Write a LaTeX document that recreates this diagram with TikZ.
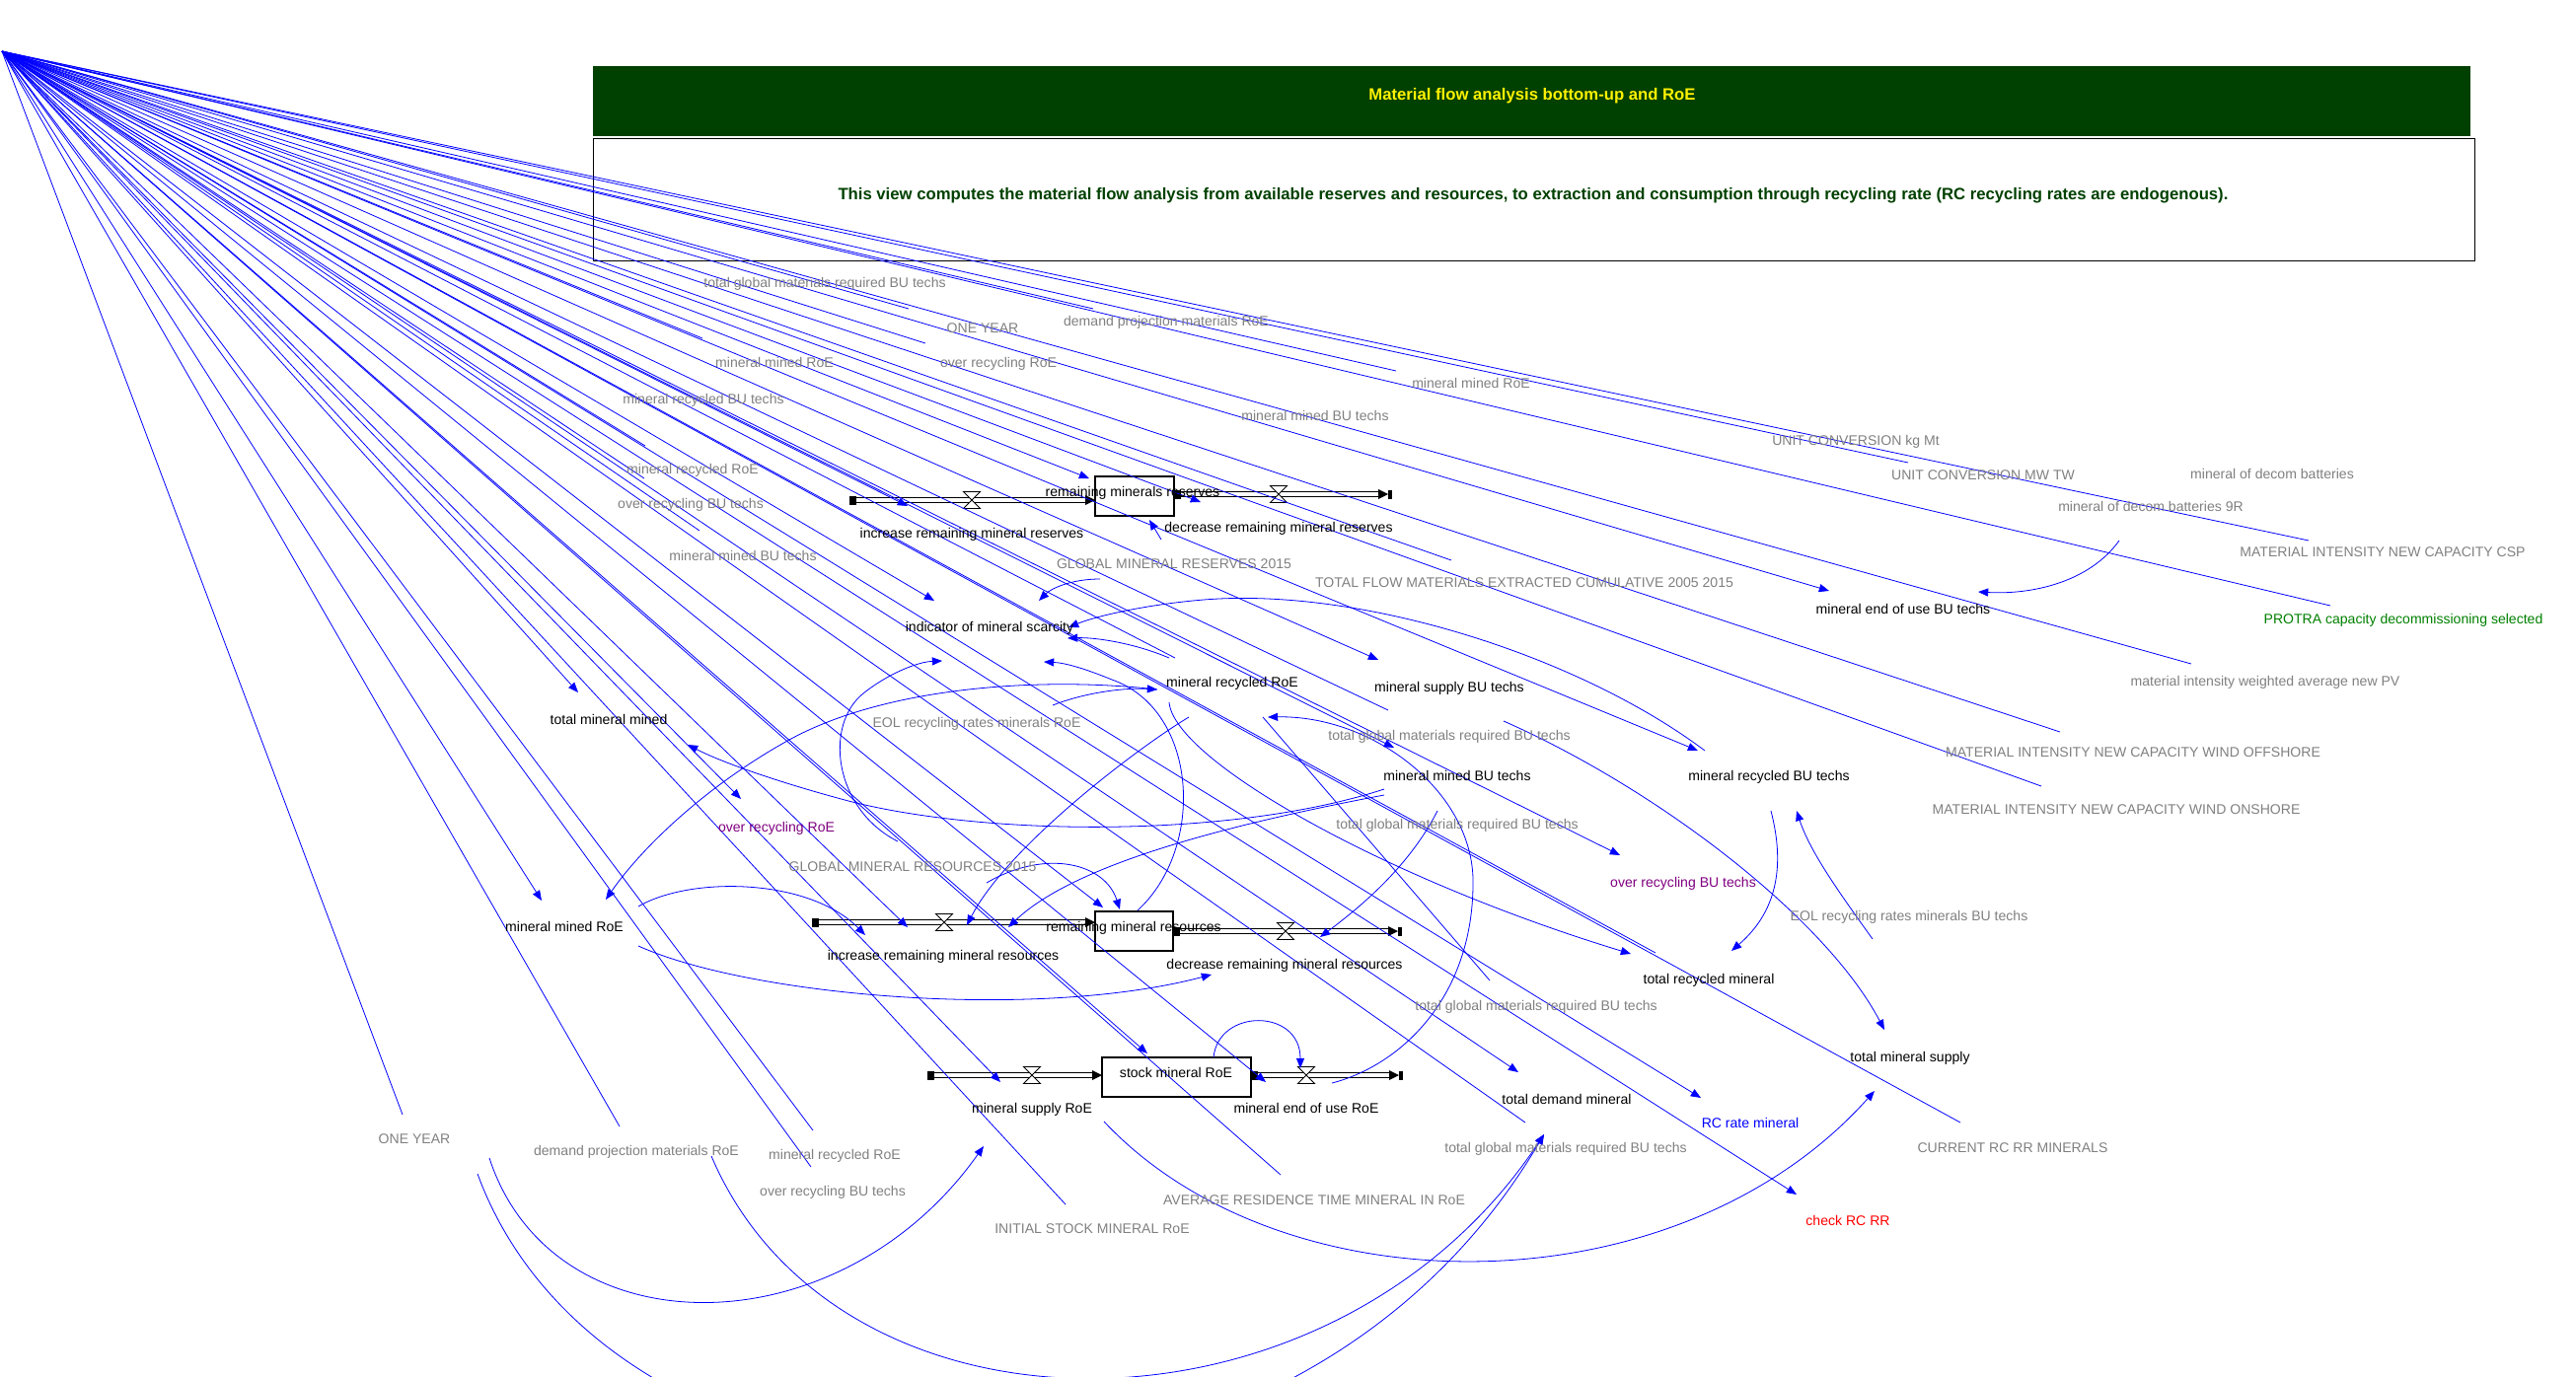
\documentclass[tikz,border=0pt]{standalone}
\usepackage{fontspec}
\setmainfont{Liberation Sans}
\usetikzlibrary{arrows.meta}
\definecolor{linkblue}{RGB}{0,0,255}
\definecolor{shadowgray}{RGB}{128,128,128}
\definecolor{hdrgreen}{RGB}{0,64,0}
\definecolor{lblpurple}{RGB}{128,0,128}
\definecolor{lblgreen}{RGB}{0,128,0}
\definecolor{lblred}{RGB}{255,0,0}

% one flow pipe: name, left x, right (arrow tip) x, y, valve x
\newcommand{\flowline}[5]{%
  \coordinate (#1-src) at (#2,#4);
  \coordinate (#1-dst) at (#3,#4);
  \coordinate (#1-valve) at (#5,#4);
  \draw[pipe] (#1-src) -- ({#3-8},#4);
  \fill (#2,{#4-4.5}) rectangle ({#2+7},{#4+4.5});
  \fill ({#3-10},{#4-5}) -- (#1-dst) -- ({#3-10},{#4+5}) -- cycle;
  \draw[valveshape] ({#5-8.5},{#4-8.5}) -- ({#5+8.5},{#4-8.5}) -- ({#5-8.5},{#4+8.5}) -- ({#5+8.5},{#4+8.5}) -- cycle;
}

\begin{document}
\begin{tikzpicture}[x=0.02cm,y=-0.02cm,
  lbl/.style={font=\fontsize{8pt}{9.6pt}\selectfont, inner sep=0pt, text height=5.8pt, text depth=0pt},
  hdrlbl/.style={inner sep=0pt, text height=6.8pt, text depth=0pt, font=\fontsize{9.5pt}{11pt}\selectfont\bfseries},
  var/.style={lbl, text=black},
  shadow/.style={lbl, text=shadowgray},
  link/.style={draw=linkblue, line width=0.45pt},
  arrowlink/.style={link, -{Triangle[length=5.8pt,width=4.6pt]}},
  stockbox/.style={draw=black, line width=0.6pt, inner sep=0pt},
  pipe/.style={draw=black, line width=0.5pt, double=white, double distance=2.4pt},
  valveshape/.style={draw=black, line width=0.5pt, fill=white}]
\useasboundingbox (0,0) rectangle (2611,1396);
\clip (0,0) rectangle (2611,1396);

% ---------- header ----------
\node (titlebar) [fill=hdrgreen, inner sep=0pt, minimum width=38.06cm, minimum height=1.42cm, anchor=north west] at (601,67) {};
\node (title) [hdrlbl, text=yellow] at (1553,96) {Material flow analysis bottom-up and RoE};
\node (descbox) [draw=black, line width=0.6pt, inner sep=0pt, minimum width=38.14cm, minimum height=2.48cm, anchor=north west] at (601,140) {};
\node (desc) [hdrlbl, text=hdrgreen] at (1554,197) {This view computes the material flow analysis from available reserves and resources, to extraction and consumption through recycling rate (RC recycling rates are endogenous).};

% ---------- stocks and flows ----------
\node (sreserves) [stockbox, minimum width=1.6cm, minimum height=0.8cm] at (1150,503) {};
\node (sresources) [stockbox, minimum width=1.58cm, minimum height=0.8cm] at (1149.5,944) {};
\node (sroe) [stockbox, minimum width=3.02cm, minimum height=0.8cm] at (1192.5,1092) {};

\flowline{fresin}{861}{1110}{507}{985}
\flowline{fresout}{1190}{1407}{501}{1296}
\flowline{fsrcin}{823}{1110}{935}{957}
\flowline{fsrcout}{1189}{1417}{944}{1303}
\flowline{froein}{940}{1117}{1090}{1046}
\flowline{froeout}{1268}{1418}{1090}{1324}
\fill (1407,496.5) rectangle (1411,505.5);
\fill (1417,939.5) rectangle (1421,948.5);
\fill (1418,1085.5) rectangle (1422,1094.5);

% ---------- links from the unplaced variables ----------
\coordinate (o) at (2,52);
\foreach \px/\py [count=\k] in {2340/548, 2362/614, 1934/469, 2221/673, 2088/742, 2069/797,
    921/313, 938/348, 1108/313, 1415/376, 1471/568, 1407/720, 1191/667, 712/343, 654/452,
    653/485, 709/538, 408/1130, 628/1142, 824/1146, 822/1183, 1080/1221, 1298/1191,
    1546/1138, 1987/1138, 1678/966}
  {\coordinate (fp\k) at (\px,\py); \draw[link] (o) -- (fp\k);}
\foreach \px/\py [count=\k] in {1854/599, 1721/761, 1104/485, 1217/509, 920/513, 947/609,
    586/702, 751/810, 549/913, 1539/1087, 1163/1068, 1283/1097, 1014/1097, 1724/1113,
    1821/1211, 1397/669, 1413/758, 1642/867, 920/940, 1118/920}
  {\coordinate (fa\k) at (\px,\py); \draw[arrowlink] (o) -- (fa\k);}

% ---------- curved links ----------
\draw[arrowlink] (2148,548) .. controls (2118,590) and (2060,603) .. (2005,600);
\draw[arrowlink] (1728,761) .. controls (1600,665) and (1380,595) .. (1220,608) .. controls (1160,613) and (1110,625) .. (1083,636);
\draw[arrowlink] (1185,667) .. controls (1150,652) and (1110,646) .. (1082,647);
\draw[arrowlink] (1153,923) .. controls (1222,860) and (1215,720) .. (1127,689) .. controls (1100,678) and (1080,672) .. (1058,671);
\draw[arrowlink] (910,853) .. controls (845,820) and (835,735) .. (875,703) .. controls (900,683) and (930,671) .. (955,670);
\draw[arrowlink] (1115,587) .. controls (1085,587) and (1065,597) .. (1053,609);
\draw[arrowlink] (1177,547) -- (1165,527);
\draw[arrowlink] (1067,715) .. controls (1100,702) and (1140,697) .. (1173,699);
\draw[arrowlink] (1173,699) .. controls (1060,686) and (900,695) .. (800,750) .. controls (715,797) and (650,860) .. (614,912);
\draw[arrowlink] (1403,800) .. controls (1250,850) and (1000,848) .. (860,812) .. controls (785,792) and (730,772) .. (697,755);
\draw[arrowlink] (1403,806) .. controls (1250,835) and (1090,875) .. (1022,940);
\draw[arrowlink] (1205,727) .. controls (1150,760) and (1020,860) .. (980,938);
\draw[arrowlink] (647,919) .. controls (700,888) and (820,890) .. (877,948);
\draw[arrowlink] (647,959) .. controls (760,1010) and (1050,1035) .. (1228,988);
\draw[arrowlink] (1000,895) .. controls (1060,860) and (1120,875) .. (1135,922);
\draw[arrowlink] (1457,822) .. controls (1430,875) and (1385,915) .. (1338,950);
\draw[arrowlink] (1350,1098) .. controls (1420,1080) and (1495,1010) .. (1493,890) .. controls (1490,800) and (1390,725) .. (1285,727);
\draw[arrowlink] (1230,1072) .. controls (1235,1022) and (1318,1022) .. (1318,1083);
\draw[arrowlink] (1524,731) .. controls (1680,800) and (1850,930) .. (1910,1044);
\draw[arrowlink] (1898,952) .. controls (1868,910) and (1835,865) .. (1821,822);
\draw[arrowlink] (1795,822) .. controls (1810,880) and (1800,925) .. (1755,964);
\draw[arrowlink] (1185,712) .. controls (1190,770) and (1400,890) .. (1653,967);
\draw[arrowlink] (1119,1137) .. controls (1300,1330) and (1700,1330) .. (1900,1106);
\draw[arrowlink] (496,1174) .. controls (560,1370) and (850,1370) .. (997,1162);
\draw[arrowlink] (721,1172) .. controls (850,1475) and (1350,1475) .. (1565,1150);
\draw[arrowlink] (484,1190) .. controls (620,1560) and (1300,1600) .. (1565,1150);
\draw[link] (1280,727) -- (1510,994);

% ---------- variables ----------
\node (remres) [var] at (1148,498) {remaining minerals reserves};
\node (incres) [var] at (985,540) {increase remaining mineral reserves};
\node (decres) [var] at (1296,534) {decrease remaining mineral reserves};
\node (eoubu) [var] at (1929,617) {mineral end of use BU techs};
\node (protra) [lbl, text=lblgreen] at (2436,627) {PROTRA capacity decommissioning selected};
\node (scarcity) [var] at (1003,635) {indicator of mineral scarcity};
\node (recroe) [var] at (1249,691) {mineral recycled RoE};
\node (supbu) [var] at (1469,696) {mineral supply BU techs};
\node (totmined) [var] at (617,729) {total mineral mined};
\node (minedbu) [var] at (1477,786) {mineral mined BU techs};
\node (recbu) [var] at (1793,786) {mineral recycled BU techs};
\node (overroe) [lbl, text=lblpurple] at (787,838) {over recycling RoE};
\node (overbu) [lbl, text=lblpurple] at (1706,894) {over recycling BU techs};
\node (minedroe) [var] at (572,939) {mineral mined RoE};
\node (remsrc) [var] at (1149,939) {remaining mineral resources};
\node (incsrc) [var] at (956,968) {increase remaining mineral resources};
\node (decsrc) [var] at (1302,977) {decrease remaining mineral resources};
\node (totrec) [var] at (1732,992) {total recycled mineral};
\node (totsup) [var] at (1936,1071) {total mineral supply};
\node (stockroe) [var] at (1192,1087) {stock mineral RoE};
\node (suproe) [var] at (1046,1123) {mineral supply RoE};
\node (eouroe) [var] at (1324,1123) {mineral end of use RoE};
\node (totdem) [var] at (1588,1114) {total demand mineral};
\node (rcrate) [lbl, text=linkblue] at (1774,1138) {RC rate mineral};
\node (checkrc) [lbl, text=lblred] at (1873,1237) {check RC RR};

% ---------- shadow variables ----------
\node (g1) [shadow] at (836,286) {total global materials required BU techs};
\node (g2) [shadow] at (996,332) {ONE YEAR};
\node (g3) [shadow] at (1182,325) {demand projection materials RoE};
\node (g4) [shadow] at (785,367) {mineral mined RoE};
\node (g5) [shadow] at (1012,367) {over recycling RoE};
\node (g6) [shadow] at (713,404) {mineral recycled BU techs};
\node (g7) [shadow] at (1491,388) {mineral mined RoE};
\node (g8) [shadow] at (1333,421) {mineral mined BU techs};
\node (g9) [shadow] at (1881,446) {UNIT CONVERSION kg Mt};
\node (g10) [shadow] at (2010,481) {UNIT CONVERSION MW TW};
\node (g11) [shadow] at (2303,480) {mineral of decom batteries};
\node (g12) [shadow] at (2180,513) {mineral of decom batteries 9R};
\node (g13) [shadow] at (2415,559) {MATERIAL INTENSITY NEW CAPACITY CSP};
\node (g14) [shadow] at (702,475) {mineral recycled RoE};
\node (g15) [shadow] at (700,510) {over recycling BU techs};
\node (g16) [shadow] at (753,563) {mineral mined BU techs};
\node (g17) [shadow] at (1190,571) {GLOBAL MINERAL RESERVES 2015};
\node (g18) [shadow] at (1545,590) {TOTAL FLOW MATERIALS EXTRACTED CUMULATIVE 2005 2015};
\node (g19) [shadow] at (2296,690) {material intensity weighted average new PV};
\node (g20) [shadow] at (990,732) {EOL recycling rates minerals RoE};
\node (g21) [shadow] at (1469,745) {total global materials required BU techs};
\node (g22) [shadow] at (2162,762) {MATERIAL INTENSITY NEW CAPACITY WIND OFFSHORE};
\node (g23) [shadow] at (2145,820) {MATERIAL INTENSITY NEW CAPACITY WIND ONSHORE};
\node (g24) [shadow] at (1477,835) {total global materials required BU techs};
\node (g25) [shadow] at (925,878) {GLOBAL MINERAL RESOURCES 2015};
\node (g26) [shadow] at (1935,928) {EOL recycling rates minerals BU techs};
\node (g27) [shadow] at (1557,1019) {total global materials required BU techs};
\node (g28) [shadow] at (420,1154) {ONE YEAR};
\node (g29) [shadow] at (645,1166) {demand projection materials RoE};
\node (g30) [shadow] at (846,1170) {mineral recycled RoE};
\node (g31) [shadow] at (1587,1163) {total global materials required BU techs};
\node (g32) [shadow] at (2040,1163) {CURRENT RC RR MINERALS};
\node (g33) [shadow] at (844,1207) {over recycling BU techs};
\node (g34) [shadow] at (1332,1216) {AVERAGE RESIDENCE TIME MINERAL IN RoE};
\node (g35) [shadow] at (1107,1245) {INITIAL STOCK MINERAL RoE};
\end{tikzpicture}
\end{document}
